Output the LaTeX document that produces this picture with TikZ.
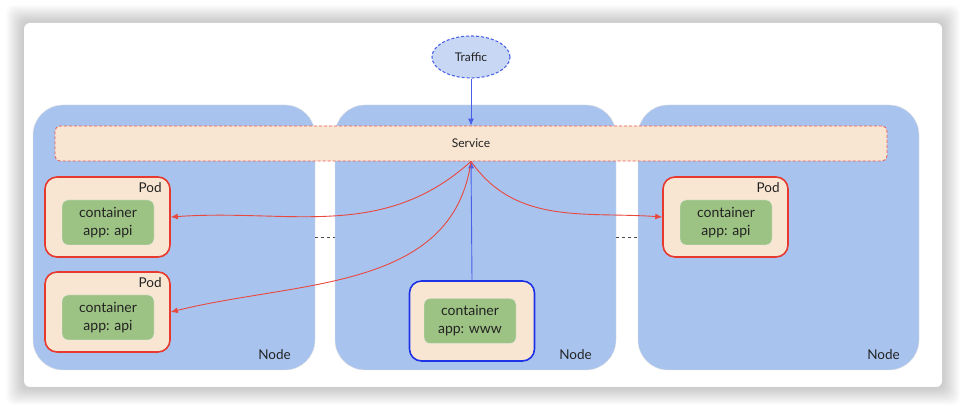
\documentclass[tikz,border=0pt]{standalone}
\usepackage{fontspec}
\setmainfont{Lato}
\usetikzlibrary{arrows.meta,shapes.geometric}
\definecolor{hostblue}{HTML}{A9C3EF}
\definecolor{podbeige}{HTML}{F8E6D2}
\definecolor{ctrgreen}{HTML}{9DC384}
\definecolor{podred}{HTML}{E8392E}
\definecolor{arrowred}{HTML}{E8483D}
\definecolor{wwwblue}{HTML}{1F33E6}
\definecolor{trafficfill}{HTML}{C8D8F4}
\definecolor{trafficline}{HTML}{4A63E8}
\definecolor{inkgray}{HTML}{222222}
\tikzset{
  card/.style={fill=white, rounded corners=6pt, minimum width=918pt, minimum height=364pt},
  hostbox/.style={draw=black!12, fill=hostblue, rounded corners=30pt, minimum height=265pt},
  hostlbl/.style={anchor=east, inner sep=0pt, text=inkgray, font=\fontsize{13.5}{15}\selectfont},
  svcbox/.style={draw=podred!85, dash pattern=on 3pt off 2pt, line width=0.8pt, fill=podbeige,
    rounded corners=5pt, minimum width=832pt, minimum height=35pt, text=inkgray,
    font=\fontsize{12}{14}\selectfont},
  trafficbox/.style={ellipse, draw=trafficline, dash pattern=on 3pt off 2pt, line width=1.1pt,
    fill=trafficfill, minimum width=78pt, minimum height=42pt, inner sep=0pt, text=inkgray,
    font=\fontsize{12}{14}\selectfont},
  podbox/.style={draw=podred, line width=1.6pt, fill=podbeige, rounded corners=12pt,
    minimum width=125pt, minimum height=80pt},
  wwwbox/.style={podbox, draw=wwwblue},
  podlbl/.style={anchor=north east, inner sep=0pt, text=inkgray, font=\fontsize{13.5}{15}\selectfont},
  ctrbox/.style={fill=ctrgreen, draw=black!8, rounded corners=6pt, minimum width=92pt,
    minimum height=45pt, align=center, text=inkgray, font=\fontsize{14}{18}\selectfont},
  redarrow/.style={draw=arrowred, line width=0.9pt, -{Latex[length=7pt,width=6pt]}},
  bluearrow/.style={draw=wwwblue!70!hostblue, line width=0.9pt, -{Latex[length=7pt,width=6pt]}},
  gapline/.style={draw=black!70, dashed, line width=0.8pt}
}
\begin{document}
\begin{tikzpicture}[x=1pt,y=1pt]
  \useasboundingbox (0,0) rectangle (966,412);
  % soft shadow under the card
  \foreach \s in {1,...,18}
    \fill[black, opacity=0.012, rounded corners=8pt] (24-\s,25-\s) rectangle (942+\s,389+\s);
  \node[card] (card) at (483,207) {};

  % the three nodes
  \node[hostbox, minimum width=282pt] (hostL) at (174,174.5) {};
  \node[hostbox, minimum width=281pt] (hostM) at (475.5,174.5) {};
  \node[hostbox, minimum width=281pt] (hostR) at (778.5,174.5) {};
  \node[hostlbl] (hostLlbl) at (291,57) {Node};
  \node[hostlbl] (hostMlbl) at (592,57) {Node};
  \node[hostlbl] (hostRlbl) at (900,57) {Node};
  \draw[gapline] (hostL.east) -- (hostM.west);
  \draw[gapline] (hostM.east) -- (hostR.west);

  \node[svcbox] (svc) at (471,268.5) {Service};
  \node[trafficbox] (traffic) at (471,355) {Traffic};

  % pods
  \node[podbox] (pod1) at (107.5,195) {};
  \node[podbox] (pod2) at (107.5,100) {};
  \node[podbox] (pod3) at (725.5,195) {};
  \node[wwwbox] (www) at (472,91) {};
  \node[podlbl] (pod1lbl) at ([xshift=-9pt,yshift=-6pt]pod1.north east) {Pod};
  \node[podlbl] (pod2lbl) at ([xshift=-9pt,yshift=-6pt]pod2.north east) {Pod};
  \node[podlbl] (pod3lbl) at ([xshift=-9pt,yshift=-6pt]pod3.north east) {Pod};
  \node[ctrbox] (ctr1) at (108,189.5) {container\\app: api};
  \node[ctrbox] (ctr2) at (108,94.5) {container\\app: api};
  \node[ctrbox] (ctr3) at (726,189.5) {container\\app: api};
  \node[ctrbox] (ctrwww) at (470,91) {container\\app: www};

  % traffic
  \draw[bluearrow] (traffic) -- (svc);
  \draw[bluearrow] (www.north) -- (svc.south);
  \draw[redarrow] (svc.south) to[out=222,in=4] (pod1.east);
  \draw[redarrow] (svc.south) to[out=262,in=14] (pod2.east);
  \draw[redarrow] (svc.south) to[out=-55,in=176] (pod3.west);
\end{tikzpicture}
\end{document}
